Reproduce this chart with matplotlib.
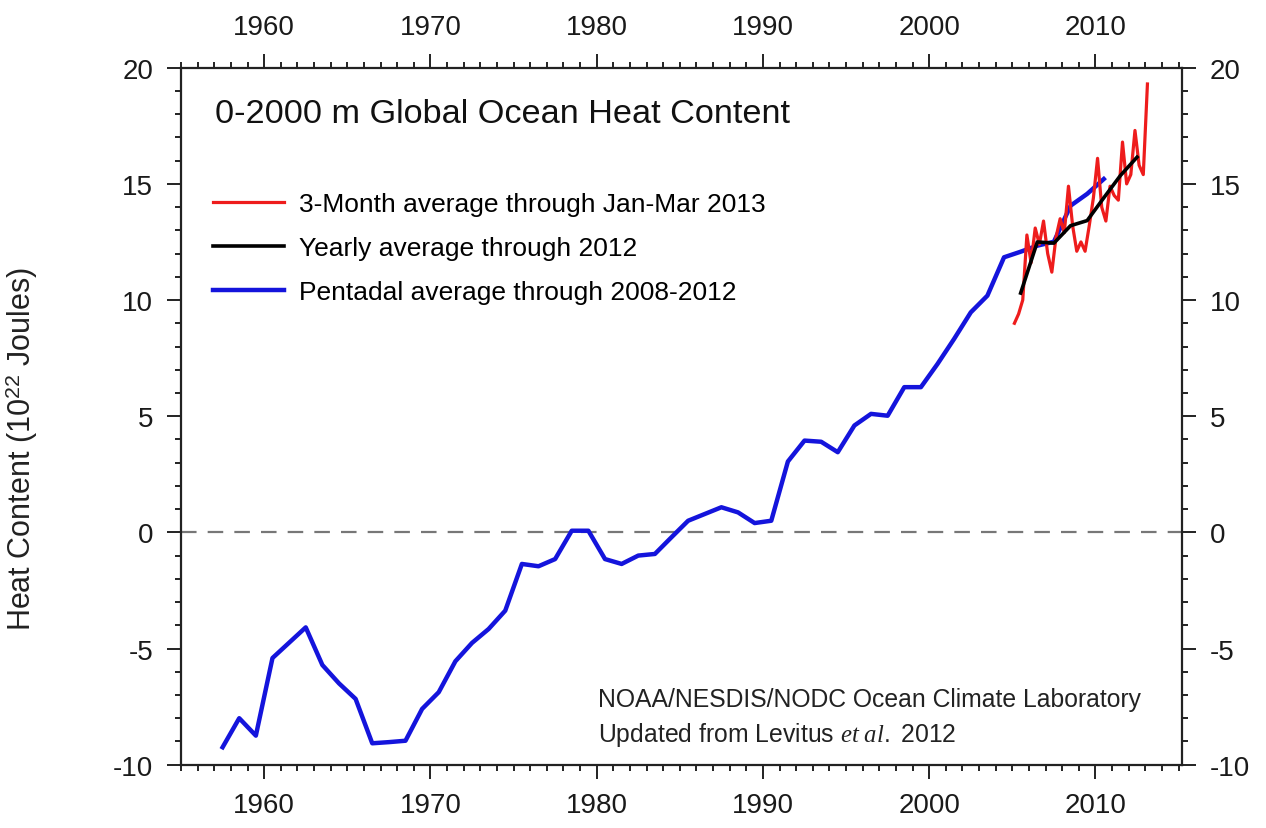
import numpy as np
import matplotlib
matplotlib.use("Agg")
import matplotlib.pyplot as plt
from matplotlib.ticker import MultipleLocator

# pentadal average, centred mid-pentad (1955-59 -> 1957.5 ... 2008-12 -> 2010.5)
pent_years = np.arange(1957.5, 2011.0, 1.0)
pent_ohc = [-9.25, -8.0, -8.75, -5.41, -4.75, -4.09, -5.71, -6.5, -7.17, -9.08,
            -9.03, -8.97, -7.6, -6.88, -5.55, -4.76, -4.16, -3.37, -1.36, -1.46,
            -1.15, 0.07, 0.07, -1.15, -1.36, -1.0, -0.93, -0.21, 0.5, 0.79,
            1.08, 0.86, 0.4, 0.5, 3.05, 3.95, 3.9, 3.45, 4.6, 5.1,
            5.02, 6.25, 6.25, 7.25, 8.33, 9.47, 10.19, 11.84, 12.08, 12.34,
            12.51, 14.06, 14.57, 15.21]

# yearly average 2005-2012
year_years = np.arange(2005.5, 2013.0, 1.0)
year_ohc = [10.3, 12.5, 12.45, 13.2, 13.42, 14.4, 15.36, 16.15]

# 3-month average, Jan-Mar 2005 ... Jan-Mar 2013
seas_years = np.arange(2005.125, 2013.2, 0.25)
seas_ohc = [9.0, 9.4, 10.0, 12.8, 11.6, 13.1, 12.4, 13.4, 12.0, 11.2,
            12.7, 13.5, 12.9, 14.9, 13.2, 12.1, 12.5, 12.1, 13.2, 14.4,
            16.1, 14.0, 13.4, 14.9, 14.5, 14.3, 16.8, 15.0, 15.4, 17.3,
            15.8, 15.4, 19.3]

plt.rcParams['font.family'] = ['Liberation Sans', 'DejaVu Sans']
plt.rcParams['axes.unicode_minus'] = False
plt.rcParams['mathtext.fontset'] = 'custom'
plt.rcParams['mathtext.rm'] = 'Liberation Sans'
plt.rcParams['mathtext.it'] = 'Liberation Serif:italic'

fig = plt.figure(figsize=(12.66, 8.29), dpi=100)
ax = fig.add_axes([0.143, 0.0764, 0.7906, 0.8407])

ax.axhline(0, color='#777777', lw=1.6, ls=(0, (7, 5)), zorder=1)
ax.plot(seas_years, seas_ohc, color='#ee1c1c', lw=2.3, label='3-Month average through Jan-Mar 2013', zorder=3)
ax.plot(year_years, year_ohc, color='black', lw=2.6, label='Yearly average through 2012', zorder=4)
ax.plot(pent_years, pent_ohc, color='#1414dc', lw=3.2, label='Pentadal average through 2008-2012', zorder=2)

ax.set_xlim(1955, 2015.2)
ax.set_ylim(-10, 20)
ax.xaxis.set_major_locator(MultipleLocator(10))
ax.xaxis.set_minor_locator(MultipleLocator(1))
ax.yaxis.set_major_locator(MultipleLocator(5))
ax.yaxis.set_minor_locator(MultipleLocator(1))
ax.tick_params(which='both', direction='out', top=True, right=True,
               labeltop=True, labelright=True, width=1.4, color='#222222')
ax.tick_params(which='major', length=10, labelsize=20, pad=10, labelcolor='#1a1a1a')
ax.tick_params(which='minor', length=4.5)
for sp in ax.spines.values():
    sp.set_linewidth(1.6)
    sp.set_color('#222222')

ax.set_ylabel('Heat Content (10$^{\\mathrm{22}}$ Joules)', fontsize=22, color='#222222')
ax.yaxis.set_label_coords(-0.141, 0.454)

ax.text(0.034, 0.934, '0-2000 m Global Ocean Heat Content', transform=ax.transAxes,
        fontsize=24.7, va='center', ha='left', color='#111111')

leg = ax.legend(handles=ax.lines[1:4], loc='upper left', bbox_to_anchor=(0.032, 0.822),
                frameon=False, fontsize=19, handlelength=2.7, handletextpad=0.55,
                labelspacing=0.76, borderaxespad=0, borderpad=0)

ax.text(0.4166, 0.094, 'NOAA/NESDIS/NODC Ocean Climate Laboratory', transform=ax.transAxes,
        fontsize=17.8, va='center', ha='left', color='#222222')
ax.text(0.4166, 0.044, 'Updated from Levitus $\\mathit{et\\ al.}$ 2012', transform=ax.transAxes,
        fontsize=17.8, va='center', ha='left', color='#222222')

fig.savefig('out.png', dpi=100)
